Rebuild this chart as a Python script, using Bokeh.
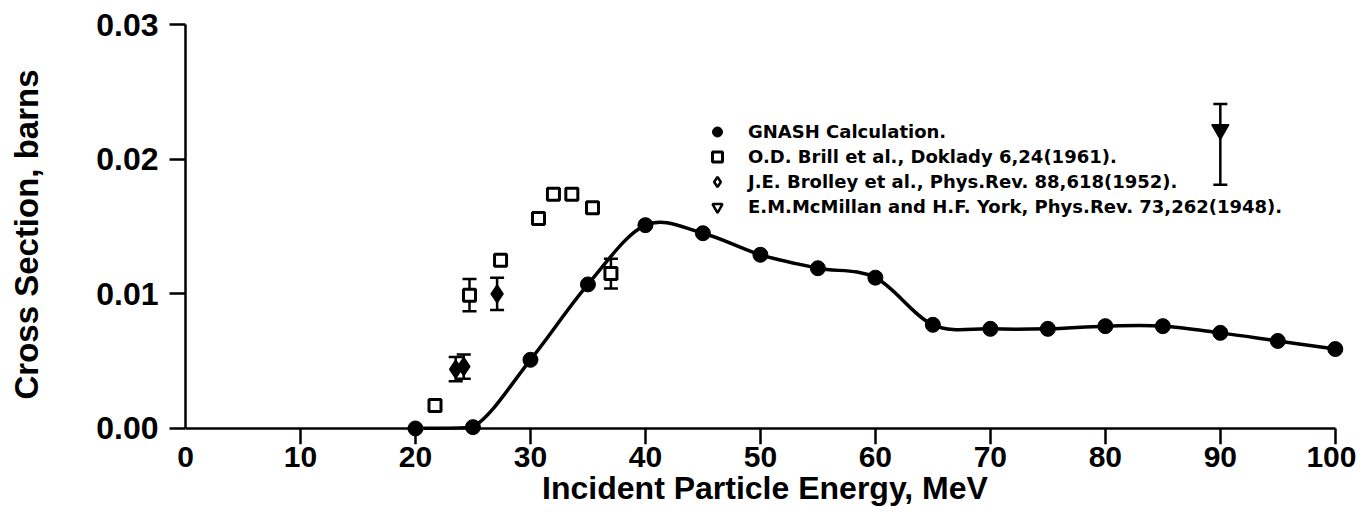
import numpy as np
from bokeh.plotting import figure
from bokeh.models import (Range1d, FixedTicker, Whisker, TeeHead, ColumnDataSource,
                          Legend, LegendItem, NumeralTickFormatter, LinearAxis)
from bokeh.embed import file_html
from bokeh.resources import INLINE

# ---------------- data ----------------
gnash_energy = [20, 25, 30, 35, 40, 45, 50, 55, 60, 65, 70, 75, 80, 85, 90, 95, 100]
gnash_xs = [0.0, 0.0001, 0.0051, 0.0107, 0.0151, 0.0145, 0.0129, 0.0119, 0.0112,
            0.0077, 0.0074, 0.0074, 0.0076, 0.0076, 0.0071, 0.0065, 0.0059]

brill_energy = [21.7, 24.7, 27.4, 30.7, 32.0, 33.6, 35.4, 37.0]
brill_xs = [0.0017, 0.0099, 0.0125, 0.0156, 0.0174, 0.0174, 0.0164, 0.0115]
brill_err = [0.0, 0.0012, 0.0, 0.0, 0.0, 0.0, 0.0, 0.0011]

brolley_energy = [23.5, 24.2, 27.1]
brolley_xs = [0.0044, 0.0046, 0.0100]
brolley_err = [0.0009, 0.0009, 0.0012]

mcmillan_energy = [90]
mcmillan_xs = [0.0222]
mcmillan_low = [0.0181]
mcmillan_high = [0.0241]

x_label_ticks = [0, 10, 20, 30, 40, 50, 60, 70, 80, 90, 100]
x_mark_ticks = [10, 20, 30, 40, 50, 60, 70, 80, 90, 100]
y_ticks = [0.0, 0.01, 0.02, 0.03]

x_title = "Incident Particle Energy, MeV"
y_title = "Cross Section, barns"
legend_labels = ["GNASH Calculation.",
                 "O.D. Brill et al., Doklady 6,24(1961).",
                 "J.E. Brolley et al., Phys.Rev. 88,618(1952).",
                 "E.M.McMillan and H.F. York, Phys.Rev. 73,262(1948)."]

FONT = "Liberation Sans"
LFONT = "DejaVu Sans"

# ---------------- figure ----------------
p = figure(width=1356, height=514,
           x_range=Range1d(0, 100.8), y_range=Range1d(-0.00119, 0.03),
           output_backend="svg", toolbar_location=None,
           min_border_left=185, min_border_right=12,
           min_border_top=24, min_border_bottom=70,
           background_fill_color="white", border_fill_color="white",
           outline_line_color=None)
p.grid.visible = False

# axis carrying the tick labels and title (at the frame bottom, no line / ticks)
xa = p.xaxis[0]
xa.ticker = FixedTicker(ticks=x_label_ticks)
xa.axis_label = x_title
xa.axis_line_color = None
xa.major_tick_line_color = None
xa.major_tick_in = 0
xa.major_tick_out = 0
xa.minor_tick_line_color = None
xa.major_label_text_font = FONT
xa.major_label_text_font_style = "bold"
xa.major_label_text_font_size = "30px"
xa.major_label_text_color = "black"
xa.major_label_standoff = 2
xa.axis_label_text_font = FONT
xa.axis_label_text_font_style = "bold"
xa.axis_label_text_font_size = "32px"
xa.axis_label_text_color = "black"
xa.axis_label_standoff = 0

# axis carrying the line and ticks, sitting at cross section = 0
xline = LinearAxis(fixed_location=0, bounds=(0, 100), ticker=FixedTicker(ticks=x_mark_ticks),
                   axis_line_color="black", axis_line_width=2.5,
                   major_tick_line_color="black", major_tick_line_width=2.5,
                   major_tick_in=16, major_tick_out=0,
                   minor_tick_line_color=None,
                   major_label_text_font_size="0px", major_label_text_alpha=0,
                   major_label_standoff=0)
p.add_layout(xline, "above")

ya = p.yaxis[0]
ya.bounds = (0, 0.03)
ya.ticker = FixedTicker(ticks=y_ticks)
ya.formatter = NumeralTickFormatter(format="0.00")
ya.axis_label = y_title
ya.axis_line_color = "black"
ya.axis_line_width = 2.5
ya.major_tick_line_color = "black"
ya.major_tick_line_width = 2.5
ya.major_tick_in = 0
ya.major_tick_out = 16
ya.minor_tick_line_color = None
ya.major_label_text_font = FONT
ya.major_label_text_font_style = "bold"
ya.major_label_text_font_size = "32px"
ya.major_label_text_color = "black"
ya.major_label_standoff = 11
ya.axis_label_text_font = FONT
ya.axis_label_text_font_style = "bold"
ya.axis_label_text_font_size = "33px"
ya.axis_label_text_color = "black"
ya.axis_label_standoff = 48

# ---------------- GNASH smooth curve (Catmull-Rom bezier through the points) ----------------
gx = np.array(gnash_energy, dtype=float)
gy = np.array(gnash_xs, dtype=float)
n = len(gx)
xp = np.concatenate([[gx[0]], gx, [gx[-1]]])
yp = np.concatenate([[gy[0]], gy, [gy[-1]]])
idx = np.arange(n - 1)
cx0 = gx[idx] + (xp[idx + 2] - xp[idx]) / 6.0
cy0 = np.maximum(gy[idx] + (yp[idx + 2] - yp[idx]) / 6.0, 0.0)
cx1 = gx[idx + 1] - (xp[idx + 3] - xp[idx + 1]) / 6.0
cy1 = np.maximum(gy[idx + 1] - (yp[idx + 3] - yp[idx + 1]) / 6.0, 0.0)
p.bezier(x0=gx[:-1], y0=gy[:-1], x1=gx[1:], y1=gy[1:],
         cx0=cx0, cy0=cy0, cx1=cx1, cy1=cy1, line_color="black", line_width=3.5)

r_gnash = p.scatter(gnash_energy, gnash_xs, marker="circle", size=15,
                    fill_color="black", line_color="black")

# ---------------- error bars ----------------
def whisk(xs, lo, hi):
    src = ColumnDataSource(dict(x=xs, lo=lo, hi=hi))
    w = Whisker(source=src, base="x", lower="lo", upper="hi", dimension="height",
                line_color="black", line_width=2.5,
                lower_head=TeeHead(size=14, line_color="black", line_width=2.5),
                upper_head=TeeHead(size=14, line_color="black", line_width=2.5))
    p.add_layout(w)

bx = [e for e, s in zip(brill_energy, brill_err) if s > 0]
by = [v for v, s in zip(brill_xs, brill_err) if s > 0]
bs = [s for s in brill_err if s > 0]
whisk(bx, [v - s for v, s in zip(by, bs)], [v + s for v, s in zip(by, bs)])
whisk(brolley_energy, [v - s for v, s in zip(brolley_xs, brolley_err)],
      [v + s for v, s in zip(brolley_xs, brolley_err)])
whisk(mcmillan_energy, mcmillan_low, mcmillan_high)

# ---------------- experimental points ----------------
r_brill = p.scatter(brill_energy, brill_xs, marker="square", size=12,
                    fill_color="white", line_color="black", line_width=3)
p.scatter(brolley_energy, brolley_xs, marker="diamond", size=18,
          fill_color="black", line_color="black", line_width=1.5)
p.scatter(mcmillan_energy, mcmillan_xs, marker="inverted_triangle", size=17,
          fill_color="black", line_color="black", line_width=1.5)

# hidden copies drawn with the open symbols used in the key
r_brolley_key = p.scatter(brolley_energy, brolley_xs, marker="diamond", size=14,
                          fill_color="white", line_color="black", line_width=2.5,
                          visible=False)
r_mcm_key = p.scatter(mcmillan_energy, mcmillan_xs, marker="inverted_triangle", size=13,
                      fill_color="white", line_color="black", line_width=2.5,
                      visible=False)

legend = Legend(items=[LegendItem(label=legend_labels[0], renderers=[r_gnash]),
                       LegendItem(label=legend_labels[1], renderers=[r_brill]),
                       LegendItem(label=legend_labels[2], renderers=[r_brolley_key]),
                       LegendItem(label=legend_labels[3], renderers=[r_mcm_key])],
                location=(517, 225), orientation="vertical",
                border_line_color=None, background_fill_alpha=0,
                inactive_fill_alpha=0,
                padding=0, margin=0, spacing=0,
                glyph_width=30, glyph_height=25, label_height=25,
                label_standoff=16,
                label_text_font=LFONT, label_text_font_style="bold",
                label_text_font_size="18px", label_text_color="black")
p.add_layout(legend)

open("out.html", "w").write(file_html(p, INLINE))
